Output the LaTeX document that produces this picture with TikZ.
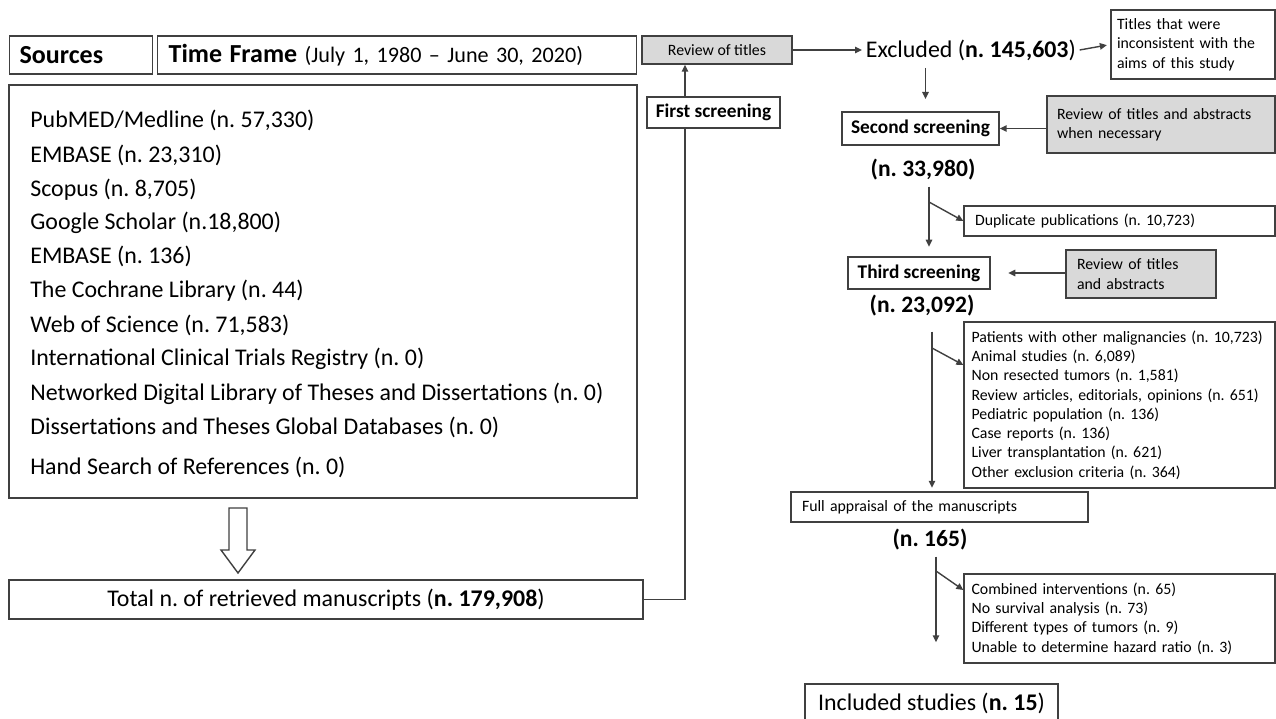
\documentclass[tikz,border=0pt]{standalone}
\usepackage{fontspec}
\setmainfont{Carlito}
\usetikzlibrary{arrows.meta, positioning, calc}

\definecolor{boxgray}{HTML}{D9D9D9}
\definecolor{linegray}{HTML}{404040}

\begin{document}
\frenchspacing
\begin{tikzpicture}[x=0.02cm, y=-0.02cm,
    box/.style={rectangle, draw=linegray, line width=0.8pt, inner sep=0pt},
    leftbox/.style={box, align=left, inner xsep=0.2cm},
    graybox/.style={leftbox, fill=boxgray},
    bigfont/.style={font=\fontsize{13.6}{16}\selectfont},
    countfont/.style={font=\fontsize{13.4}{16}\selectfont\bfseries},
    smallfont/.style={font=\fontsize{9}{11}\selectfont},
    midbold/.style={font=\fontsize{11}{13}\selectfont\bfseries},
    conn/.style={draw=linegray, line width=0.8pt},
    arrow/.style={conn, -{Triangle[length=1.4mm, width=1.3mm]}},
  ]
  \useasboundingbox (0,0) rectangle (1276,719);

  % sources side
  \node[leftbox, font=\fontsize{14.8}{17}\selectfont, anchor=west, text width=2.46cm, minimum height=0.76cm] (sources) at (9,55) {\textbf{Sources}};
  \node[leftbox, font=\fontsize{12.6}{16}\selectfont, anchor=west, inner xsep=0.22cm, text width=9.14cm, minimum height=0.76cm] (timeframe) at (157,55) {{\fontsize{14.8}{17}\selectfont\bfseries Time Frame} (July 1, 1980 -- June 30, 2020)};

  \node[box, minimum width=12.56cm, minimum height=8.26cm] (srclist) at (323,291.5) {};
  \foreach \yy/\txt [count=\i] in {120/{PubMED/Medline (n. 57,330)}, 155/{EMBASE (n. 23,310)},
      189/{Scopus (n. 8,705)}, 222/{Google Scholar (n.18,800)}, 256/{EMBASE (n. 136)},
      290/{The Cochrane Library (n. 44)}, 325/{Web of Science (n. 71,583)},
      358/{International Clinical Trials Registry (n. 0)},
      393/{Networked Digital Library of Theses and Dissertations (n. 0)},
      427/{Dissertations and Theses Global Databases (n. 0)},
      467/{Hand Search of References (n. 0)}}
    \node[bigfont, anchor=base west, inner sep=0pt] (src\i) at (30,\yy+8) {\txt};

  \draw[conn, fill=white] (229,508) -- (247,508) -- (247,550) -- (255,550) -- (238,573) -- (221,550) -- (229,550) -- cycle;

  \node[box, bigfont, minimum width=12.68cm, minimum height=0.78cm] (total) at (326,599.5) {Total n. of retrieved manuscripts (\textbf{n. 179,908})};

  % first screening
  \node[box, fill=boxgray, smallfont, minimum width=3cm, minimum height=0.56cm] (review) at (717,50) {Review of titles};
  \node[box, midbold, minimum width=2.66cm, minimum height=0.62cm] (first) at (713.5,112.5) {First screening};
  \coordinate (upx) at (685,0);
  \draw[conn] (total.east) -| (upx |- first.south);
  \draw[arrow] (upx |- first.north) -- (upx |- review.south);

  \node[bigfont, anchor=west, inner sep=2pt] (excluded) at (862,50) {Excluded (\textbf{n. 145,603})};
  \node[leftbox, smallfont, inner xsep=0.12cm, text width=3.04cm, minimum height=1.38cm] (titles) at (1193,44.5) {Titles that were\\inconsistent with the\\aims of this study};
  \draw[arrow] (review.east) -- (excluded.west);
  \draw[arrow, shorten >=2pt] (excluded.east) -- (titles.west);

  % second screening
  \node[box, midbold, minimum width=3.14cm, minimum height=0.66cm] (second) at (920.5,128.5) {Second screening};
  \node[graybox, smallfont, text width=4.16cm, minimum height=1.14cm] (reviewabs) at (1161,124.5) {Review of titles and abstracts\\when necessary};
  \draw[arrow, shorten <=2pt, shorten >=7pt] ([xshift=0.1cm]second.north |- excluded.south) -- ([xshift=0.1cm]second.north);
  \draw[arrow] (reviewabs.west |- second.east) -- (second.east);

  \node[countfont] (n33980) at (923,170) {(n. 33,980)};

  % third screening
  \node[leftbox, smallfont, inner xsep=0.22cm, text width=5.78cm, minimum height=0.6cm] (dup) at (1119.5,221) {Duplicate publications (n. 10,723)};
  \node[box, midbold, minimum width=2.84cm, minimum height=0.64cm] (third) at (919,273) {Third screening};
  \node[graybox, smallfont, inner xsep=0.22cm, text width=2.56cm, minimum height=0.96cm] (reviewabs2) at (1141,274) {Review of titles\\and abstracts};
  \coordinate (trunk1) at ([xshift=0.12cm]n33980.south);
  \draw[arrow, shorten >=5.5pt] (trunk1) -- (trunk1 |- third.north);
  \draw[arrow] (trunk1 |- 0,202) -- (dup.west);
  \draw[arrow, shorten >=10pt] (reviewabs2.west |- third.east) -- (third.east);

  \node[countfont] (n23092) at (922,306) {(n. 23,092)};

  % full appraisal
  \node[leftbox, smallfont, inner xsep=0.15cm, text width=5.92cm, minimum height=3.32cm] (excl3) at (1119.5,405) {Patients with other malignancies (n. 10,723)\\Animal studies (n. 6,089)\\Non resected tumors (n. 1,581)\\Review articles, editorials, opinions (n. 651)\\Pediatric population (n. 136)\\Case reports (n. 136)\\Liver transplantation (n. 621)\\Other exclusion criteria (n. 364)};
  \node[leftbox, smallfont, inner xsep=0.22cm, text width=5.5cm, minimum height=0.6cm] (full) at (939.5,507) {Full appraisal of the manuscripts};
  \coordinate (trunk2) at ([xshift=0.2cm]n23092.south);
  \draw[arrow, shorten <=5pt, shorten >=2pt] (trunk2) -- (trunk2 |- full.north);
  \draw[arrow] (trunk2 |- 0,348) -- (excl3.west |- 0,365);

  \node[countfont] (n165) at (930,540) {(n. 165)};

  % included
  \node[leftbox, smallfont, inner xsep=0.15cm, text width=5.92cm, minimum height=1.78cm] (excl4) at (1119.5,618.5) {Combined interventions (n. 65)\\No survival analysis (n. 73)\\Different types of tumors (n. 9)\\Unable to determine hazard ratio (n. 3)};
  \node[box, bigfont, minimum width=5.06cm, minimum height=0.76cm] (incl) at (931.5,703) {Included studies (\textbf{n. 15})};
  \coordinate (trunk3) at ([xshift=0.12cm]n165.south);
  \draw[arrow, shorten >=0.82cm] (trunk3) -- (trunk3 |- incl.north);
  \draw[arrow] (trunk3 |- 0,571) -- (excl4.west |- 0,590);
\end{tikzpicture}
\end{document}
